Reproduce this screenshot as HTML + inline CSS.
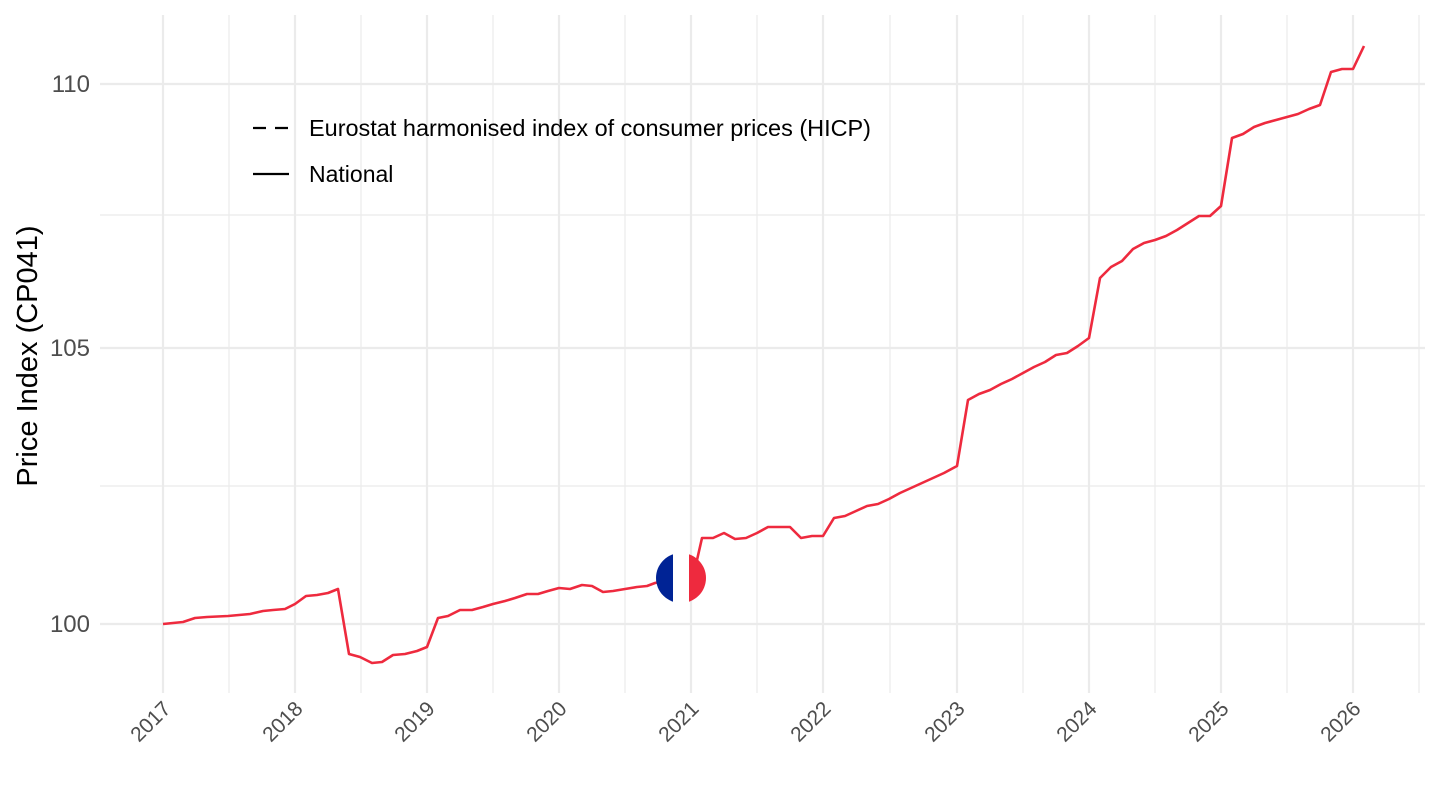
<!DOCTYPE html>
<html><head><meta charset="utf-8"><style>
html,body{margin:0;padding:0;background:#fff;}
svg{display:block;font-family:"Liberation Sans",Arial,sans-serif;}
</style></head><body>
<svg width="1440" height="810" viewBox="0 0 1440 810" xmlns="http://www.w3.org/2000/svg">
<rect width="1440" height="810" fill="#fff"/>
<g stroke="#ebebeb" stroke-width="1.2">
<line x1="100" x2="1425" y1="215" y2="215"/>
<line x1="100" x2="1425" y1="486" y2="486"/>
<line x1="229" x2="229" y1="15" y2="693"/>
<line x1="361" x2="361" y1="15" y2="693"/>
<line x1="493" x2="493" y1="15" y2="693"/>
<line x1="625" x2="625" y1="15" y2="693"/>
<line x1="757" x2="757" y1="15" y2="693"/>
<line x1="890" x2="890" y1="15" y2="693"/>
<line x1="1023" x2="1023" y1="15" y2="693"/>
<line x1="1155" x2="1155" y1="15" y2="693"/>
<line x1="1287" x2="1287" y1="15" y2="693"/>
<line x1="1419" x2="1419" y1="15" y2="693"/>
</g>
<g stroke="#ebebeb" stroke-width="2.2">
<line x1="100" x2="1425" y1="84" y2="84"/>
<line x1="100" x2="1425" y1="348" y2="348"/>
<line x1="100" x2="1425" y1="624" y2="624"/>
<line x1="163" x2="163" y1="15" y2="693"/>
<line x1="295" x2="295" y1="15" y2="693"/>
<line x1="427" x2="427" y1="15" y2="693"/>
<line x1="559" x2="559" y1="15" y2="693"/>
<line x1="691" x2="691" y1="15" y2="693"/>
<line x1="823" x2="823" y1="15" y2="693"/>
<line x1="957" x2="957" y1="15" y2="693"/>
<line x1="1089" x2="1089" y1="15" y2="693"/>
<line x1="1221" x2="1221" y1="15" y2="693"/>
<line x1="1353" x2="1353" y1="15" y2="693"/>
</g>
<polyline fill="none" stroke="#EE2A3E" stroke-width="2.6" stroke-linejoin="round" points="
163,624 183,622 195,618 207,617 228,616 250,614 263,611 273,610 285,609 295,604 306,596 317,595 328,593 338,589 349,654 360,657 372,663 382,662 393,655 405,654 417,651 427,647 438,618 448,616 460,610 472,610 483,607 493,604 505,601 515,598 527,594 538,594 548,591 559,588 570,589 582,585 592,586 603,592 613,591 625,589 637,587 647,586 655,583 690,575 697,560 702,538 713,538 724,533 735,539 746,538 757,533 768,527 779,527 790,527 801,538 812,536 823,536 834,518 845,516 856,511 867,506 878,504 889,499 900,493 911,488 922,483 933,478 944,473 957,466 968,400 979,394 990,390 1001,384 1012,379 1023,373 1034,367 1045,362 1056,355 1067,353 1078,346 1089,338 1100,278 1111,267 1122,261 1133,249 1144,243 1155,240 1166,236 1177,230 1188,223 1199,216 1210,216 1221,206 1232,138 1243,134 1254,127 1265,123 1276,120 1287,117 1298,114 1309,109 1320,105 1331,72 1342,69 1353,69 1364,46"/>
<defs><clipPath id="fc"><circle cx="681" cy="578" r="25"/></clipPath></defs>
<g clip-path="url(#fc)">
<rect x="655" y="550" width="18" height="60" fill="#002395"/>
<rect x="673" y="550" width="16" height="60" fill="#fff"/>
<rect x="689" y="550" width="20" height="60" fill="#EE2A3E"/>
</g>
<g fill="#4d4d4d" font-size="24" text-anchor="end">
<text x="90" y="92">110</text>
<text x="90" y="356">105</text>
<text x="90" y="632">100</text>
</g>
<g fill="#4d4d4d" font-size="21" text-anchor="end">
<text transform="translate(172,710) rotate(-45)">2017</text>
<text transform="translate(304,710) rotate(-45)">2018</text>
<text transform="translate(436,710) rotate(-45)">2019</text>
<text transform="translate(568,710) rotate(-45)">2020</text>
<text transform="translate(700,710) rotate(-45)">2021</text>
<text transform="translate(832,710) rotate(-45)">2022</text>
<text transform="translate(966,710) rotate(-45)">2023</text>
<text transform="translate(1098,710) rotate(-45)">2024</text>
<text transform="translate(1230,710) rotate(-45)">2025</text>
<text transform="translate(1362,710) rotate(-45)">2026</text>
</g>
<text transform="translate(37,356) rotate(-90)" text-anchor="middle" font-size="29" fill="#000">Price Index (CP041)</text>
<line x1="253" x2="289" y1="128" y2="128" stroke="#000" stroke-width="2.2" stroke-dasharray="13,9"/>
<line x1="253" x2="289" y1="174" y2="174" stroke="#000" stroke-width="2.2"/>
<text x="309" y="136" font-size="23" fill="#000" textLength="562" lengthAdjust="spacingAndGlyphs">Eurostat harmonised index of consumer prices (HICP)</text>
<text x="309" y="182" font-size="23" fill="#000">National</text>
</svg>
</body></html>
